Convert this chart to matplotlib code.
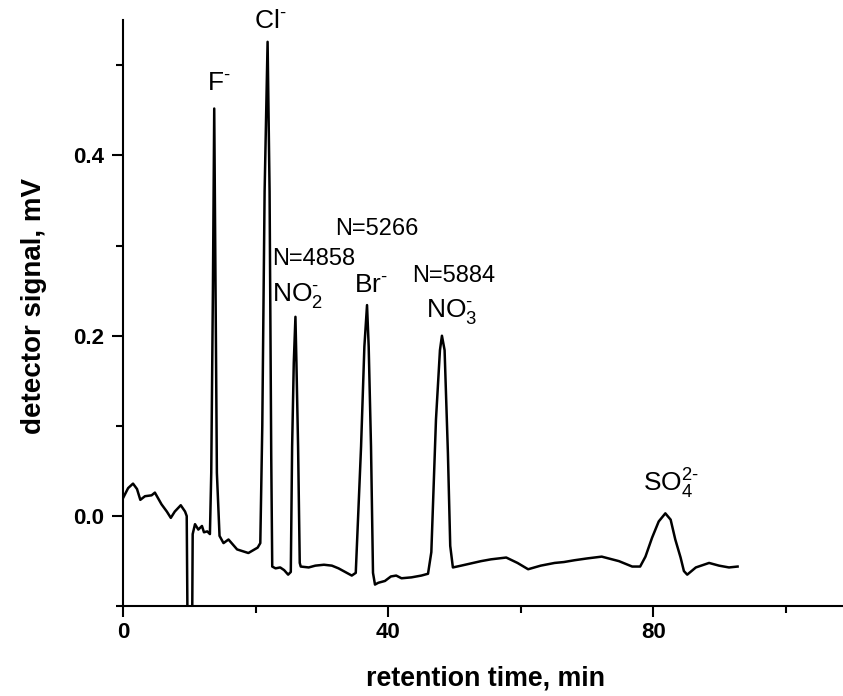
import matplotlib
matplotlib.use("Agg")
import matplotlib.pyplot as plt
from matplotlib.ticker import MultipleLocator

plt.rcParams['font.family'] = ['Liberation Sans', 'DejaVu Sans']
plt.rcParams['mathtext.fontset'] = 'custom'
plt.rcParams['mathtext.rm'] = 'Liberation Sans'
plt.rcParams['mathtext.it'] = 'Liberation Sans'
plt.rcParams['mathtext.bf'] = 'Liberation Sans:bold'

# chromatogram trace (time in min, signal in mV)
tiempo = [0.0, 0.76, 1.5, 2.1, 2.6, 3.3, 4.3, 4.8, 5.8, 6.6, 7.2, 7.8, 8.7, 9.35, 9.6,
          9.75, 9.8, 10.3, 10.4, 10.5, 10.85, 11.35, 11.9, 12.2, 12.7, 13.1,
          13.3, 13.55, 13.75, 13.95, 14.15, 14.55, 15.15, 15.9, 17.2, 18.9, 20.3,
          20.7, 21.0, 21.35, 21.8, 22.1, 22.35, 22.5, 23.0, 23.7, 24.3, 24.9, 25.3,
          25.5, 25.75, 26.0, 26.15, 26.4, 26.65, 26.8, 28.0, 29.0, 30.3, 31.5, 32.5,
          33.5, 34.5, 35.1, 35.9, 36.4, 36.8, 37.05, 37.4, 37.7, 38.0, 38.5, 39.5,
          40.4, 41.2, 42.0, 43.5, 45.0, 46.0, 46.5, 47.2, 47.8, 48.1, 48.5, 49.0,
          49.35, 49.75, 51.0, 54.0, 55.5, 57.8, 59.5, 61.1, 63.0, 65.1, 66.5, 68.1,
          70.0, 72.2, 74.8, 76.8, 78.0, 78.8, 79.8, 80.8, 81.8, 82.6, 83.3, 84.1,
          84.6, 85.1, 86.4, 88.4, 89.9, 91.4, 92.7]
senal = [0.020, 0.031, 0.036, 0.030, 0.018, 0.022, 0.023, 0.026, 0.013, 0.005, -0.002,
         0.005, 0.012, 0.005, 0.000,
         -0.15, -0.15, -0.15, -0.15, -0.02, -0.009, -0.015, -0.011, -0.018, -0.017, -0.020,
         0.048, 0.250, 0.452, 0.250, 0.048, -0.022, -0.030, -0.026, -0.037, -0.041, -0.035,
         -0.030, 0.100, 0.360, 0.526, 0.360, 0.066, -0.056, -0.058, -0.057, -0.060, -0.065, -0.062,
         0.077, 0.170, 0.221, 0.170, 0.077, -0.052, -0.056, -0.057, -0.055, -0.054, -0.055, -0.058,
         -0.062, -0.066, -0.063, 0.077, 0.188, 0.234, 0.188, 0.077, -0.063, -0.076, -0.074, -0.072,
         -0.067, -0.066, -0.069, -0.068, -0.066, -0.064, -0.040, 0.107, 0.184, 0.200, 0.184, 0.070,
         -0.033, -0.057, -0.055, -0.050, -0.048, -0.046, -0.052, -0.059, -0.055, -0.052, -0.051, -0.049,
         -0.047, -0.045, -0.050, -0.056, -0.056, -0.045, -0.024, -0.006, 0.003, -0.004, -0.026, -0.046,
         -0.061, -0.065, -0.057, -0.052, -0.055, -0.057, -0.056]

etiquetas = [r'F$^{\text{-}}$', r'Cl$^{\text{-}}$', 'N=4858', r'NO$_2^{\text{-}}$', 'N=5266',
             r'Br$^{\text{-}}$', 'N=5884', r'NO$_3^{\text{-}}$', r'SO$_4^{\text{2-}}$']
etiqueta_x = [12.7, 19.8, 22.5, 22.5, 32.0, 34.8, 43.6, 45.7, 78.4]
etiqueta_y = [0.473, 0.541, 0.278, 0.239, 0.312, 0.249, 0.260, 0.221, 0.027]
etiqueta_size = [19, 19, 17, 19, 17, 19, 17, 19, 19]

fig = plt.figure(figsize=(8.43, 6.96), dpi=100)
ax = fig.add_axes([0.146, 0.129, 0.854, 0.842])
ax.plot(tiempo, senal, color='black', lw=1.8)

for txt, x, y, s in zip(etiquetas, etiqueta_x, etiqueta_y, etiqueta_size):
    ax.text(x, y, txt, fontsize=s, ha='left', va='baseline')

ax.set_xlim(0, 108.6)
ax.set_ylim(-0.1, 0.55)
ax.xaxis.set_major_locator(MultipleLocator(40))
ax.xaxis.set_minor_locator(MultipleLocator(20))
ax.yaxis.set_major_locator(MultipleLocator(0.2))
ax.yaxis.set_minor_locator(MultipleLocator(0.1))
ax.spines['top'].set_visible(False)
ax.spines['right'].set_visible(False)
ax.spines['left'].set_linewidth(1.5)
ax.spines['bottom'].set_linewidth(1.5)
ax.tick_params(which='major', length=8, width=1.5, labelsize=16)
ax.tick_params(axis='y', which='major', pad=6)
ax.tick_params(which='minor', length=5, width=1.5)
for lab in ax.get_xticklabels() + ax.get_yticklabels():
    lab.set_fontweight('bold')

ax.set_xlabel('retention time, min', fontsize=19.3, fontweight='bold')
ax.xaxis.set_label_coords(0.504, -0.101)
ax.set_ylabel('detector signal, mV', fontsize=20, fontweight='bold')
ax.yaxis.set_label_coords(-0.106, 0.513)

fig.savefig('out.png', dpi=100)
